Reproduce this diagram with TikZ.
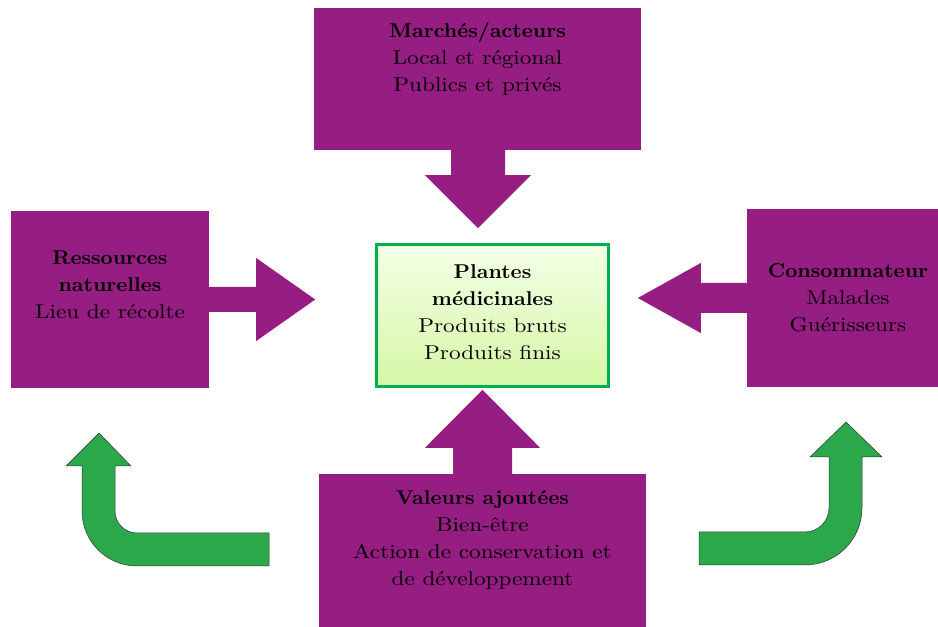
\documentclass[tikz,border=0pt]{standalone}
\usepackage{fontspec}
\setmainfont{lmroman10-regular}[Extension=.otf,BoldFont=lmroman10-bold,
  UprightFeatures={FakeStretch=1.16},BoldFeatures={FakeStretch=1.05}]
\usetikzlibrary{calc,shadows}
\definecolor{prune}{RGB}{150,29,130}
\definecolor{vertfort}{RGB}{0,176,80}
\definecolor{vertfleche}{RGB}{43,168,74}
\definecolor{vertclair}{RGB}{243,255,230}
\definecolor{vertpale}{RGB}{214,247,166}
\begin{document}
\begin{tikzpicture}[x=1pt,y=1pt,
  bloc/.style={fill=prune,draw=none,inner sep=0pt},
  texte/.style={align=center,inner sep=0pt,font=\fontsize{20}{27}\selectfont},
  fleche/.style={fill=vertfleche,draw=black!80,line width=0.5pt}]
\useasboundingbox (0,0) rectangle (938,627);
\node[bloc,minimum width=327,minimum height=142] (march) at (477.5,548) {};
\node[bloc,minimum width=198,minimum height=177] (ress) at (110,327.5) {};
\node[bloc,minimum width=191,minimum height=178] (cons) at (842.5,329) {};
\node[bloc,minimum width=327,minimum height=153] (val) at (482.5,76.5) {};
% fleches pleines
\fill[prune] ($(march.south)+(-26.5,1)$) -- ++(0,-26) -- ++(-26,0) -- ++(53,-53)
  -- ++(53,53) -- ++(-26,0) -- ++(0,26) -- cycle;
\fill[prune] ($(ress.east)+(-1,12.5)$) -- ++(48,0) -- ++(0,29) -- ++(59,-41.5)
  -- ++(-59,-41.5) -- ++(0,29) -- ++(-48,0) -- cycle;
\fill[prune] ($(cons.west)+(1,15)$) -- ++(-47,0) -- ++(0,20) -- ++(-63,-35)
  -- ++(63,-35) -- ++(0,20) -- ++(47,0) -- cycle;
\fill[prune] ($(val.north)+(-29.5,-1)$) -- ++(0,27) -- ++(-28,0) -- ++(57.5,58)
  -- ++(57.5,-58) -- ++(-28,0) -- ++(0,-27) -- cycle;
\node[draw=vertfort,line width=3.5pt,top color=vertclair,bottom color=vertpale,
  drop shadow={shadow xshift=1.5pt,shadow yshift=-1.5pt,opacity=0.3},
  minimum width=232,minimum height=142] (plantes) at (492.5,311.5) {};
\node[texte] (tplantes) at (492.5,315) {\textbf{Plantes}\\\textbf{médicinales}\\Produits bruts\\Produits finis};
\node[texte] (tmarch) at (477.5,568) {\textbf{Marchés/acteurs}\\Local et régional\\Publics et privés};
\node[texte] (tress) at (110,342) {\textbf{Ressources}\\\textbf{naturelles}\\Lieu de récolte};
\node[texte] (tcons) at (848,329) {\textbf{Consommateur}\\Malades\\Guérisseurs};
\node[texte] (tval) at (482.5,87.5) {\textbf{Valeurs ajoutées}\\Bien-être\\Action de conservation et\\de développement};
% fleches coudees
\draw[fleche] (269,94) -- (137,94) arc(270:180:22) -- (115,161) -- (131,161) -- (99,194)
  -- (66,161) -- (82,161) -- (82,116) arc(180:270:55) -- (269,61) -- cycle;
\draw[fleche] (699,95) -- (805,95) arc(270:360:24) -- (829,170) -- (810,170) -- (846,205)
  -- (882,170) -- (862,170) -- (862,119) arc(0:-90:57) -- (699,62) -- cycle;
\end{tikzpicture}
\end{document}
